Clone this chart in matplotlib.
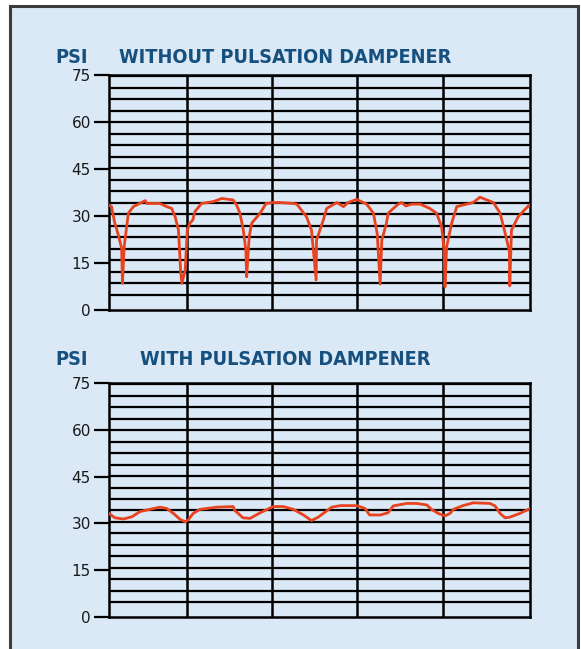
import matplotlib.pyplot as plt
import numpy as np
from matplotlib.patches import Rectangle

# chart values (x = position across the trace in % of chart width, y = PSI)
without_x = [0, 0.6, 1.3, 2.2, 3.0, 3.2, 3.6, 4.6, 5.8, 8.6, 9.0, 12.1, 13.7, 14.9, 15.7, 16.5,
             17.0, 17.3, 18.1, 18.6, 19.2, 19.9, 20.4, 22.0, 24.8, 26.8, 29.5, 30.3, 31.1, 31.9,
             32.5, 32.7, 33.3, 33.9, 35.9, 37.3, 39.0, 40.6, 43.8, 44.6, 46.9, 48.1, 49.2, 49.3,
             50.9, 51.7, 54.1, 55.7, 56.8, 58.8, 61.2, 62.8, 63.7, 64.4, 64.8, 65.9, 66.3, 68.7,
             69.5, 70.5, 71.9, 73.9, 76.2, 77.8, 79.0, 79.6, 79.8, 80.2, 81.4, 82.6, 86.5, 88.1,
             91.3, 92.9, 94.3, 95.1, 95.2, 95.6, 97.2, 99.6, 100]
without_psi = [33.5, 33.0, 28.2, 24.0, 19.7, 8.5, 20.2, 30.9, 33.0, 34.9, 34.0, 34.0, 33.0, 32.4, 29.8, 25.5,
               12.8, 8.5, 12.8, 25.5, 27.7, 28.7, 31.4, 34.0, 34.6, 35.6, 35.1, 33.5, 30.9, 25.5,
               19.2, 10.6, 23.4, 27.7, 30.9, 34.0, 34.3, 34.3, 34.0, 33.8, 29.8, 25.5, 9.6, 22.3,
               28.7, 32.4, 34.3, 33.0, 34.3, 35.3, 33.8, 30.9, 24.5, 8.3, 22.3, 27.7, 30.9, 33.8,
               34.3, 33.2, 33.8, 33.8, 32.4, 30.9, 26.6, 19.2, 7.4, 20.2, 27.7, 33.0, 34.3, 36.0,
               34.3, 30.9, 23.4, 18.6, 7.7, 25.5, 29.8, 33.2, 33.6]

with_x = [0, 1.4, 3.4, 5.4, 7.4, 9.7, 12.1, 13.7, 15.3, 16.9, 18.1, 18.8, 20.0, 21.6, 25.6, 29.5,
          29.9, 30.7, 31.8, 33.5, 35.9, 39.0, 41.4, 43.8, 46.2, 48.1, 49.7, 50.9, 52.9, 54.9,
          58.8, 60.8, 61.9, 64.4, 66.3, 67.5, 70.7, 73.1, 75.5, 76.6, 78.2, 79.8, 81.0, 81.8,
          84.1, 86.5, 90.5, 91.7, 92.9, 94.1, 95.2, 97.6, 99.6, 100]
with_psi = [33.2, 31.8, 31.4, 32.1, 33.8, 34.5, 35.2, 34.8, 33.2, 31.3, 30.5, 31.1, 33.2, 34.5, 35.2, 35.4,
            34.1, 33.2, 31.8, 31.6, 33.4, 35.4, 35.4, 34.5, 32.7, 30.9, 32.0, 33.2, 35.2, 35.7,
            35.7, 34.8, 32.7, 32.7, 33.4, 35.6, 36.4, 36.4, 35.9, 34.5, 33.2, 32.4, 33.2, 34.5,
            35.7, 36.6, 36.4, 35.6, 33.2, 31.8, 32.0, 33.2, 34.5, 34.7]

psi_ticks = [0, 15, 30, 45, 60, 75]
titles = ["WITHOUT PULSATION DAMPENER", "WITH PULSATION DAMPENER"]

bg = "#dbe8f5"
title_blue = "#15507f"
trace_red = "#e8421e"

fig = plt.figure(figsize=(5.81, 6.49), dpi=100)
fig.patch.set_facecolor("white")

# light blue panel with dark frame (behind the axes)
frame = Rectangle((9.5 / 581, -0.05), (578 - 9.5) / 581, 1.05 - 5.5 / 649,
                  transform=fig.transFigure, facecolor=bg, edgecolor="#3c3c3c",
                  linewidth=2.2, zorder=-5)
fig.patches.append(frame)

# chart-paper grid lines
h_lines = 4.8 + 3.67 * np.arange(20)
v_lines = [18.5, 38.7, 58.9, 79.3]

axes_rects = [[109 / 581, 1 - 310 / 649, 421 / 581, 235 / 649],
              [109 / 581, 1 - 617 / 649, 421 / 581, 234 / 649]]
title_base = [1 - 63 / 649, 1 - 365 / 649]

for rect, xs, ys, title, base in zip(axes_rects, [without_x, with_x], [without_psi, with_psi],
                                     titles, title_base):
    ax = fig.add_axes(rect)
    ax.set_facecolor(bg)
    ax.set_xlim(0, 100)
    ax.set_ylim(0, 75)
    for h in h_lines:
        ax.axhline(h, color="black", linewidth=1.6, zorder=1)
    for v in v_lines:
        ax.axvline(v, color="black", linewidth=1.8, zorder=1)
    ax.plot(xs, ys, color=trace_red, linewidth=2.0, zorder=3)

    for s in ax.spines.values():
        s.set_color("black")
        s.set_linewidth(1.8)
    ax.set_xticks([])
    ax.set_yticks(psi_ticks)
    ax.tick_params(axis="y", length=11, width=1.6, pad=2, labelsize=11, labelcolor="#1a1a1a")

    fig.text(285 / 581, base, title, ha="center", va="baseline", color=title_blue,
             fontsize=14.2, fontweight="bold", fontstretch="condensed", family="DejaVu Sans")
    fig.text(55 / 581, base, "PSI", ha="left", va="baseline", color=title_blue,
             fontsize=14.2, fontweight="bold", fontstretch="condensed", family="DejaVu Sans")

fig.savefig("out.png", dpi=100)
